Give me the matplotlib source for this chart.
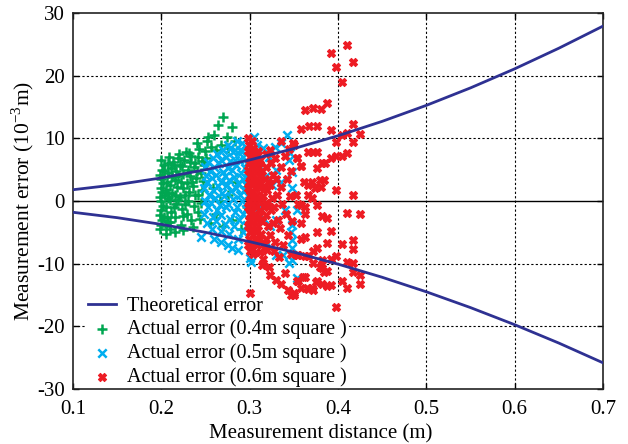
import matplotlib
matplotlib.use("Agg")
import matplotlib.pyplot as plt

# ---------------- data ----------------
theory_x = [0.10, 0.15, 0.20, 0.25, 0.30, 0.35, 0.40, 0.45, 0.50, 0.55, 0.60, 0.65, 0.70]
theory_upper = [1.80, 2.62, 3.68, 4.99, 6.55, 8.36, 10.41, 12.71, 15.26, 18.05, 21.09, 24.38, 27.91]
theory_lower = [-1.80, -2.66, -3.73, -5.00, -6.49, -8.17, -10.07, -12.17, -14.49, -17.01, -19.74, -22.67, -25.82]

green_pts = [
    (0.199, -4.5), (0.200, -3.8), (0.201, -3.0), (0.199, -2.2), (0.200, -1.5), (0.202, -0.8), (0.200, 0.0),
    (0.199, 0.7), (0.201, 1.4), (0.200, 2.1), (0.202, 2.8), (0.200, 3.5), (0.199, 4.2), (0.201, 5.0),
    (0.203, 5.8), (0.200, 6.5), (0.205, -4.0), (0.206, -2.5), (0.205, -1.0), (0.207, 0.5), (0.205, 1.8),
    (0.206, 3.0), (0.207, 4.4), (0.208, 6.0), (0.209, 7.0), (0.210, -3.3), (0.211, -1.8), (0.210, 0.2),
    (0.212, 1.2), (0.210, 2.5), (0.212, 3.8), (0.211, 5.2), (0.213, 6.3), (0.205, -5.2), (0.210, -4.5),
    (0.215, -5.0), (0.216, -2.6), (0.217, -0.5), (0.215, 1.0), (0.218, 2.2), (0.216, 3.4), (0.217, 4.8),
    (0.219, 6.8), (0.220, 7.5), (0.222, -3.8), (0.223, -1.2), (0.221, 0.6), (0.224, 2.0), (0.222, 3.1),
    (0.225, 4.3), (0.223, 5.6), (0.226, 6.6), (0.228, 7.8), (0.225, -4.6), (0.229, -2.0), (0.230, 0.0),
    (0.231, 1.5), (0.229, 2.8), (0.232, 4.0), (0.230, 5.0), (0.233, 6.2), (0.234, 7.2), (0.236, -4.2),
    (0.237, -0.8), (0.238, 0.9), (0.236, 2.4), (0.239, 3.6), (0.240, 4.8), (0.238, 6.0), (0.241, 7.0),
    (0.243, 8.3), (0.240, 9.2), (0.244, -2.8), (0.245, -0.3), (0.246, 1.8), (0.247, 3.2), (0.245, 4.5),
    (0.248, 5.8), (0.250, 6.9), (0.249, 7.9), (0.252, 9.5), (0.253, 10.2), (0.260, 10.5), (0.264, 12.1),
    (0.270, 13.4), (0.274, 10.2), (0.280, 11.8), (0.256, 8.6), (0.262, 8.2), (0.268, 9.0), (0.276, 8.4),
    (0.283, 9.6), (0.255, -3.5), (0.262, -2.0), (0.270, -4.0), (0.280, -3.0), (0.290, -4.5), (0.258, 2.0),
    (0.266, 0.0), (0.275, 1.0), (0.285, 3.0), (0.295, 2.2), (0.300, 6.3), (0.297, -1.0),
    (0.203, -2.6), (0.204, 0.9), (0.203, 4.8), (0.214, -1.0), (0.219, 0.2), (0.219, 4.0), (0.227, 1.0),
    (0.227, -0.5), (0.234, -3.0), (0.235, 3.1), (0.242, 1.0), (0.242, -1.8), (0.214, 5.8), (0.221, 5.8),
    (0.231, 7.6), (0.208, 1.2), (0.208, -3.4), (0.224, -2.4), (0.237, 5.4), (0.246, 6.4),
]

blue_pts = [
    (0.248, -2.0), (0.249, 0.0), (0.248, 2.0), (0.250, 4.0), (0.249, 5.5),
    (0.252, -3.5), (0.253, -1.0), (0.254, 1.0), (0.252, 3.0), (0.255, 4.8), (0.253, 6.3),
    (0.257, -4.5), (0.258, -2.5), (0.256, -0.3), (0.259, 1.8), (0.257, 3.6), (0.260, 5.4), (0.258, 6.8),
    (0.262, -3.2), (0.263, -1.5), (0.261, 0.5), (0.264, 2.4), (0.262, 4.2), (0.265, 6.0), (0.263, 7.5),
    (0.267, -4.8), (0.268, -2.2), (0.266, -0.6), (0.269, 1.2), (0.267, 3.0), (0.270, 4.6), (0.268, 6.5), (0.270, 8.2),
    (0.272, -3.6), (0.273, -1.0), (0.271, 0.8), (0.274, 2.5), (0.272, 4.0), (0.275, 5.3), (0.273, 7.0), (0.276, 9.0),
    (0.277, -5.2), (0.278, -2.8), (0.276, -0.4), (0.279, 1.6), (0.277, 3.3), (0.280, 5.0), (0.278, 6.4), (0.281, 7.8),
    (0.282, -4.0), (0.283, -1.8), (0.281, 0.3), (0.284, 2.0), (0.282, 3.8), (0.285, 5.8), (0.283, 8.1), (0.286, 9.5),
    (0.287, -6.0), (0.288, -3.0), (0.286, -1.0), (0.289, 1.0), (0.287, 2.8), (0.290, 4.4), (0.288, 6.6), (0.291, 8.0),
    (0.292, -5.0), (0.293, -2.0), (0.291, 0.0), (0.294, 1.8), (0.292, 3.5), (0.295, 5.2), (0.293, 7.0),
    (0.297, -3.8), (0.296, -1.2), (0.298, 0.8), (0.296, 2.6), (0.299, 4.2), (0.297, 6.0),
    (0.278, 8.5), (0.291, 9.2), (0.297, 4.6), (0.289, 8.1), (0.283, 6.5),
    (0.305, 10.2), (0.308, 9.0), (0.315, 8.4), (0.322, 7.0), (0.329, 8.6), (0.335, 9.2), (0.342, 10.5),
    (0.312, 5.5), (0.318, 4.0), (0.325, 2.5), (0.330, 5.0), (0.336, 3.0), (0.345, 6.5), (0.346, 7.7),
    (0.310, -1.0), (0.316, -2.8), (0.323, -4.0), (0.330, -3.0), (0.340, -1.5), (0.347, -5.0),
    (0.348, 4.6), (0.348, 2.1), (0.354, -1.4), (0.348, -3.8), (0.348, -6.2), (0.348, -7.5), (0.348, -9.4),
    (0.354, -12.3), (0.275, -7.0), (0.280, -7.5), (0.287, -7.8), (0.245, -5.7), (0.300, -9.1), (0.302, -9.7),
    (0.317, -7.3), (0.330, -8.6), (0.338, -8.6), (0.345, -9.9), (0.260, -6.0), (0.268, -6.5),
]

red_pts = [
    (0.298, 10.0), (0.299, 9.0), (0.298, 8.0), (0.300, 7.0), (0.299, 6.0), (0.298, 5.0), (0.300, 4.0),
    (0.299, 3.0), (0.298, 2.0), (0.300, 1.0), (0.299, 0.0), (0.298, -1.0), (0.300, -2.0), (0.299, -3.0),
    (0.298, -4.0), (0.300, -5.0), (0.299, -6.0), (0.298, -7.0), (0.300, -8.0),
    (0.303, 9.5), (0.304, 8.5), (0.302, 7.5), (0.304, 6.5), (0.303, 5.5), (0.302, 4.5), (0.304, 3.5),
    (0.303, 2.5), (0.302, 1.5), (0.304, 0.5), (0.303, -0.5), (0.302, -1.5), (0.304, -2.5), (0.303, -3.5),
    (0.302, -4.5), (0.304, -5.5), (0.303, -6.5), (0.302, -7.5), (0.304, -8.5),
    (0.307, 7.0), (0.308, 5.0), (0.307, 3.0), (0.308, 1.0), (0.307, -1.0), (0.308, -3.0), (0.307, -5.0),
    (0.308, -7.0), (0.309, 8.0), (0.310, 4.0), (0.310, 0.0), (0.309, -4.0),
    (0.306, 2.0), (0.306, -2.0), (0.306, 6.0), (0.311, 2.2), (0.311, -2.4), (0.311, 6.0), (0.316, 2.0),
    (0.316, -1.0), (0.321, 3.0), (0.321, -0.8), (0.311, -6.2), (0.306, -6.0),
    (0.312, 6.5), (0.314, 4.8), (0.313, 2.8), (0.315, 0.8), (0.312, -1.5), (0.314, -3.2), (0.313, -5.3),
    (0.316, -6.8), (0.312, -8.2), (0.315, -9.3),
    (0.318, 7.5), (0.319, 5.5), (0.317, 3.5), (0.320, 1.8), (0.318, -0.3), (0.319, -2.2), (0.321, -4.0),
    (0.318, -6.0), (0.320, -7.8), (0.322, -10.5),
    (0.323, 8.2), (0.324, 6.0), (0.326, 4.2), (0.323, 2.5), (0.325, 0.5), (0.324, -1.5), (0.326, -3.5),
    (0.323, -5.5), (0.327, -8.0), (0.323, -11.8),
    (0.329, 6.8), (0.330, 3.5), (0.331, 1.0), (0.328, -1.0), (0.332, -3.0), (0.329, -6.5), (0.333, -9.0),
    (0.330, -12.6),
    (0.335, 9.6), (0.336, 5.5), (0.335, 2.2), (0.337, -0.5), (0.334, -4.3), (0.338, -7.0), (0.336, -13.2),
    (0.340, 7.2), (0.342, 3.5), (0.341, -2.0), (0.343, -5.5), (0.340, -11.5), (0.343, -14.2),
    (0.345, 8.3), (0.347, 4.8), (0.346, 0.8), (0.348, -3.2), (0.347, -8.5), (0.347, -15.0), (0.350, -14.7),
    (0.349, 9.3), (0.354, 6.9), (0.358, 5.6), (0.352, 1.0), (0.355, -0.5), (0.354, -12.8), (0.354, -8.6),
    (0.300, -14.7), (0.314, -10.2), (0.360, -12.1), (0.365, -13.9), (0.370, -13.9), (0.375, -13.0),
    (0.380, -10.5), (0.384, -11.3),
    (0.410, 24.9), (0.392, 23.6), (0.417, 22.2), (0.398, 21.4), (0.405, 19.0), (0.387, 15.6),
    (0.363, 14.5), (0.372, 14.8), (0.381, 14.7),
    (0.358, 11.5), (0.367, 12.0), (0.376, 12.0), (0.392, 11.3), (0.417, 12.3), (0.410, 10.9),
    (0.405, 10.5), (0.425, 10.7), (0.398, 9.4), (0.417, 9.4), (0.350, 8.9), (0.366, 7.8),
    (0.372, 7.8), (0.376, 7.8), (0.410, 7.7), (0.405, 7.2), (0.398, 7.2), (0.392, 6.9),
    (0.385, 6.1), (0.382, 6.1), (0.358, 5.6), (0.376, 5.3), (0.354, 6.9), (0.380, 3.4),
    (0.384, 3.4), (0.381, 2.3), (0.362, 3.0), (0.366, 2.5), (0.370, 3.0), (0.374, 2.1),
    (0.398, 1.8), (0.417, 1.0), (0.366, 1.0), (0.370, 0.5), (0.376, -0.6), (0.358, -0.6),
    (0.363, -1.0), (0.410, -1.9), (0.425, -2.1), (0.363, -2.1), (0.382, -2.4), (0.387, -2.7),
    (0.358, -3.5), (0.392, -4.8), (0.376, -4.9), (0.363, -5.7), (0.358, -6.1), (0.387, -6.7),
    (0.417, -6.2), (0.405, -6.9), (0.417, -7.7), (0.376, -7.5), (0.372, -8.0), (0.363, -8.8),
    (0.366, -8.8), (0.355, -8.6), (0.398, -8.8), (0.392, -9.3), (0.382, -9.4), (0.410, -9.7),
    (0.417, -9.9), (0.372, -9.9), (0.382, -10.7), (0.387, -11.2), (0.417, -11.3), (0.425, -11.8),
    (0.363, -12.1), (0.355, -12.8), (0.405, -12.8), (0.376, -12.8), (0.382, -13.2), (0.387, -13.6),
    (0.392, -13.4), (0.425, -13.2), (0.358, -13.9), (0.366, -14.1), (0.372, -14.2), (0.410, -13.9),
    (0.350, -15.0), (0.398, -16.9),
]

labels = ["Theoretical error", "Actual error (0.4m square )",
          "Actual error (0.5m square )", "Actual error (0.6m square )"]
x_ticks = [0.1, 0.2, 0.3, 0.4, 0.5, 0.6, 0.7]
y_ticks = [-30, -20, -10, 0, 10, 20, 30]

# ---------------- plot ----------------
plt.rcParams['font.family'] = ['Liberation Serif', 'DejaVu Serif']
plt.rcParams['mathtext.fontset'] = 'custom'
plt.rcParams['mathtext.rm'] = 'Liberation Serif'

fig = plt.figure(figsize=(6.28, 4.44), dpi=100)
ax = fig.add_axes([73/628, 1-389/444, 530/628, 376/444])

ax.set_xlim(0.1, 0.7)
ax.set_ylim(-30, 30)

# grid (dotted) and zero line
for xv in x_ticks[1:-1]:
    ax.axvline(xv, color='black', linestyle=(0, (2, 2)), linewidth=0.8, zorder=0)
for yv in y_ticks[1:-1]:
    if yv == 0:
        ax.axhline(yv, color='black', linewidth=1.0, zorder=0)
    else:
        ax.axhline(yv, color='black', linestyle=(0, (2, 2)), linewidth=0.8, zorder=0)

line_col = '#2e3192'
ln, = ax.plot(theory_x, theory_upper, color=line_col, linewidth=2.0, zorder=5)
ax.plot(theory_x, theory_lower, color=line_col, linewidth=2.0, zorder=5)

gx, gy = zip(*green_pts)
bx, by = zip(*blue_pts)
rx, ry = zip(*red_pts)
sg = ax.scatter(gx, gy, marker='+', s=48, color='#00a651', linewidths=1.8, zorder=2)
sb = ax.scatter(bx, by, marker='x', s=36, color='#00aeef', linewidths=1.8, zorder=3)
sr = ax.scatter(rx, ry, marker='X', s=34, color='#ed1c24', edgecolors='#ed1c24',
                linewidths=0.8, zorder=4)

ax.set_xticks(x_ticks)
ax.set_xticklabels(['0.1', '0.2', '0.3', '0.4', '0.5', '0.6', '0.7'])
ax.set_yticks(y_ticks)
ax.set_yticklabels(['-30', '-20', '-10', '0', '10', '20', '30'])
ax.tick_params(direction='in', length=4, width=1.0, top=True, right=True,
               labelsize=15, colors='black', pad=6)
ax.tick_params(axis='x', pad=8)
for sp in ax.spines.values():
    sp.set_linewidth(1.2)
    sp.set_color('#222222')

ax.set_xlabel('Measurement distance (m)', fontsize=15)
ax.xaxis.set_label_coords(0.467, -0.093)
ax.set_ylabel('Measurement error (10$^{-3}$m)', fontsize=15.5)
ax.yaxis.set_label_coords(-0.070, 0.5)

leg = ax.legend([ln, sg, sb, sr], labels, loc='lower left', fontsize=14.5,
                bbox_to_anchor=(0.025, 0.0),
                frameon=True, facecolor='white', edgecolor='none', framealpha=1,
                fancybox=False, handlelength=1.4, handletextpad=0.5,
                labelspacing=0.2, borderpad=0.1, borderaxespad=0.0,
                scatterpoints=1, markerscale=1.0)
leg.set_zorder(1.5)

fig.savefig('out.png', dpi=100)
